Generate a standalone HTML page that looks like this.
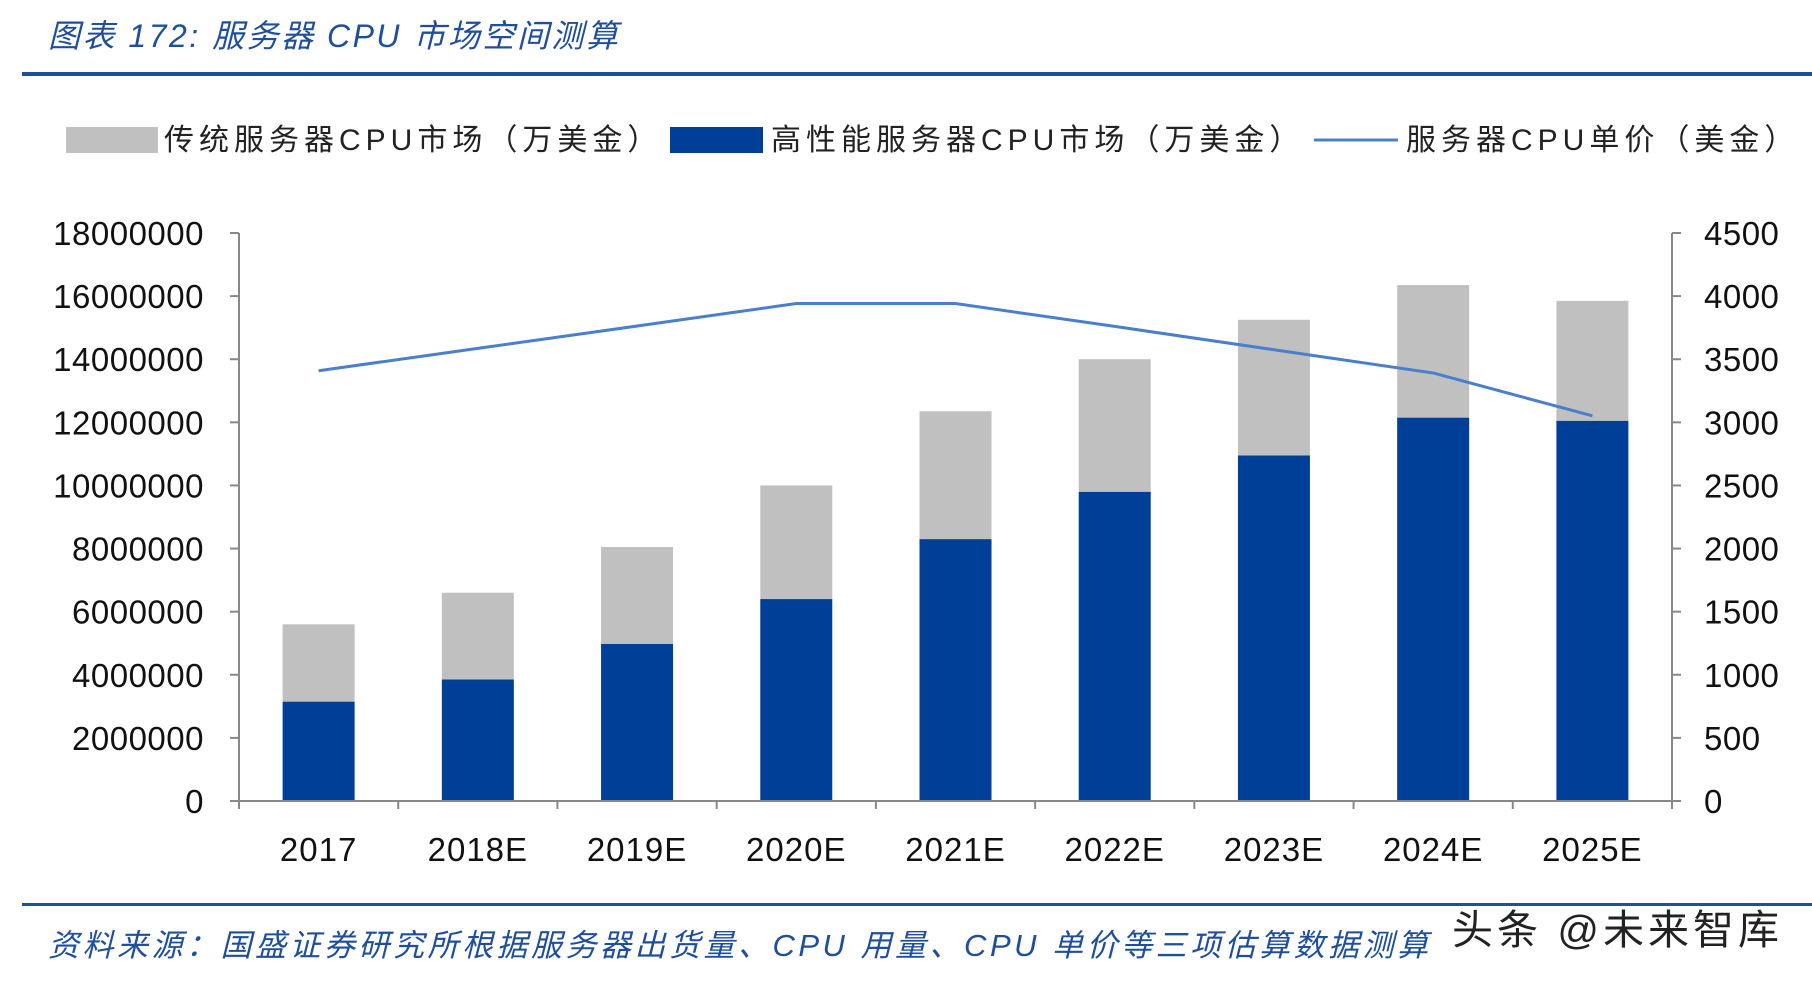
<!DOCTYPE html>
<html><head><meta charset="utf-8">
<style>
body{margin:0;background:#fff;width:1812px;height:984px;overflow:hidden;font-family:"Liberation Sans","Noto Sans CJK SC",sans-serif;}
</style></head>
<body>
<svg width="1812" height="984" xmlns="http://www.w3.org/2000/svg" style="position:absolute;left:0;top:0" font-family="Liberation Sans, Noto Sans CJK SC, sans-serif">
<text x="48" y="47" font-size="32" font-style="italic" fill="#1f4e9c" letter-spacing="2.5">图表 172:  服务器 CPU 市场空间测算</text>
<rect x="22" y="72" width="1790" height="4" fill="#1f4e9c"/>
<g font-size="30" fill="#222" letter-spacing="5">
<rect x="66" y="127" width="92" height="26" fill="#c0c0c0"/>
<text x="164" y="150">传统服务器CPU市场（万美金）</text>
<rect x="670" y="127" width="93" height="26" fill="#003f98"/>
<text x="771" y="150">高性能服务器CPU市场（万美金）</text>
<line x1="1314" y1="140" x2="1398" y2="140" stroke="#4a7fcb" stroke-width="3"/>
<text x="1406" y="150">服务器CPU单价（美金）</text>
</g>
<g id="chart"></g>
<rect x="22" y="903" width="1790" height="3" fill="#1f4e9c"/>
<text x="48" y="956" font-size="31" font-style="italic" fill="#1f4e9c" letter-spacing="3.5">资料来源：国盛证券研究所根据服务器出货量、CPU 用量、CPU 单价等三项估算数据测算</text>
<text x="1452" y="944" font-size="41" fill="#222" letter-spacing="4">头条 @未来智库</text>
</svg>
<script>
const categories=["2017","2018E","2019E","2020E","2021E","2022E","2023E","2024E","2025E"];
const hpcValues=[3150000,3850000,4980000,6400000,8300000,9800000,10950000,12150000,12050000];
const traditionalValues=[2450000,2750000,3070000,3600000,4050000,4200000,4300000,4200000,3800000];
const priceValues=[3409,3586,3763,3941,3941,3760,3575,3391,3052];
const leftTicks=[0,2000000,4000000,6000000,8000000,10000000,12000000,14000000,16000000,18000000];
const rightTicks=[0,500,1000,1500,2000,2500,3000,3500,4000,4500];

const NS="http://www.w3.org/2000/svg";
const g=document.getElementById('chart');
const X0=239,X1=1672,Y0=801,Y1=233;
const step=(X1-X0)/categories.length;
const xc=i=>X0+step*(i+0.5);
const yL=v=>Y0-(v/18000000)*(Y0-Y1);
const yR=v=>Y0-(v/4500)*(Y0-Y1);
function mk(tag,attrs){const e=document.createElementNS(NS,tag);for(const k in attrs)e.setAttribute(k,attrs[k]);g.appendChild(e);return e;}
const BW=72;
categories.forEach((c,i)=>{
  const hb=mk('rect',{x:xc(i)-BW/2,y:yL(hpcValues[i]),width:BW,height:Y0-yL(hpcValues[i]),fill:'#003f98'});
  
  
  const tot=hpcValues[i]+traditionalValues[i];
  const tb=mk('rect',{x:xc(i)-BW/2,y:yL(tot),width:BW,height:yL(hpcValues[i])-yL(tot),fill:'#c0c0c0'});
  
  
  const t=mk('text',{x:xc(i),y:861,'font-size':33,'text-anchor':'middle',fill:'#111','letter-spacing':1});
  t.textContent=c;
  
  
});
const ax=mk('line',{x1:X0,y1:Y0,x2:X1,y2:Y0,stroke:'#888','stroke-width':2});


for(let i=0;i<=categories.length;i++){mk('line',{x1:X0+step*i,y1:Y0,x2:X0+step*i,y2:Y0+8,stroke:'#888','stroke-width':2});}
const la=mk('line',{x1:X0,y1:Y1,x2:X0,y2:Y0,stroke:'#888','stroke-width':2});


const ra=mk('line',{x1:X1,y1:Y1,x2:X1,y2:Y0,stroke:'#888','stroke-width':2});


leftTicks.forEach(v=>{
  mk('line',{x1:X0-9,y1:yL(v),x2:X0,y2:yL(v),stroke:'#888','stroke-width':2});
  const t=mk('text',{x:204,y:yL(v)+12,'font-size':33,'text-anchor':'end',fill:'#111','letter-spacing':0.5});
  t.textContent=v;
  
  
});
rightTicks.forEach(v=>{
  mk('line',{x1:X1,y1:yR(v),x2:X1+9,y2:yR(v),stroke:'#888','stroke-width':2});
  const t=mk('text',{x:1704,y:yR(v)+12,'font-size':33,fill:'#111','letter-spacing':0.5});
  t.textContent=v;
  
  
});
const pl=mk('polyline',{points:priceValues.map((v,i)=>xc(i)+','+yR(v)).join(' '),fill:'none',stroke:'#4a7fcb','stroke-width':3});


</script>
</body></html>
